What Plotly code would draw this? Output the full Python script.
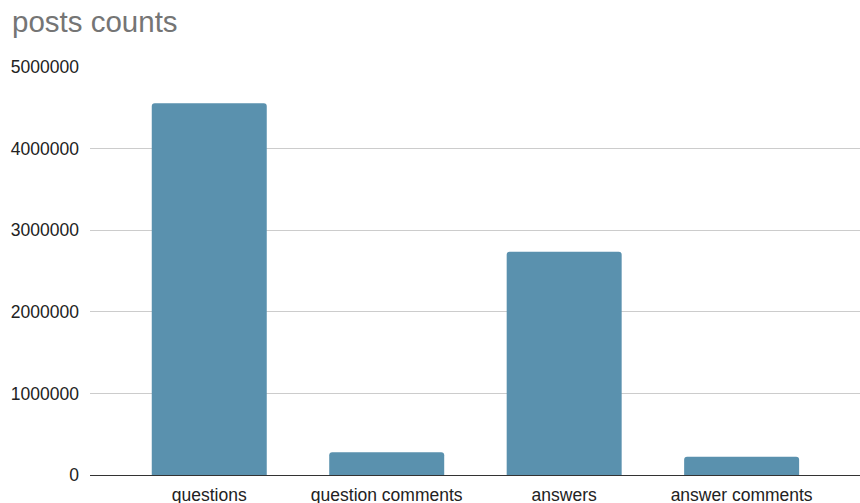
import plotly.graph_objects as go

categories = ["questions", "question comments", "answers", "answer comments"]
counts = [4555000, 278000, 2736000, 224000]
y_ticks = [0, 1000000, 2000000, 3000000, 4000000, 5000000]
y_tick_labels = ["0", "1000000", "2000000", "3000000", "4000000", "5000000"]

fig = go.Figure(
    go.Bar(
        x=list(range(len(categories))),
        y=counts,
        width=0.648,
        marker=dict(color="#5a91ae", line=dict(width=0)),
        hoverinfo="skip",
    )
)

fig.update_layout(
    width=860,
    height=503,
    margin=dict(l=90, r=0, t=67, b=28, autoexpand=False),
    paper_bgcolor="white",
    plot_bgcolor="white",
    barcornerradius=3,
    showlegend=False,
    font=dict(family="Liberation Sans, Arial, sans-serif", size=17.5, color="#222222"),
    title=dict(
        text="posts counts",
        font=dict(family="Liberation Sans, Arial, sans-serif", size=29.5, color="#757575"),
        x=12 / 860,
        xanchor="left",
        xref="container",
        yref="container",
        y=1 - 22 / 503,
        yanchor="middle",
    ),
    xaxis=dict(
        range=[-0.672, 3.667],
        tickmode="array",
        tickvals=list(range(len(categories))),
        ticktext=categories,
        showgrid=False,
        zeroline=False,
        showline=False,
        ticks="",
        ticklabelstandoff=7,
        automargin=False,
        fixedrange=True,
    ),
    yaxis=dict(
        range=[0, 5000000],
        tickmode="array",
        tickvals=y_ticks,
        ticktext=y_tick_labels,
        showgrid=True,
        gridcolor="#cccccc",
        gridwidth=1,
        zeroline=True,
        zerolinecolor="#333333",
        zerolinewidth=1,
        showline=False,
        ticks="",
        ticklabelstandoff=10,
        automargin=False,
        fixedrange=True,
    ),
)

fig.write_html("out.html")
